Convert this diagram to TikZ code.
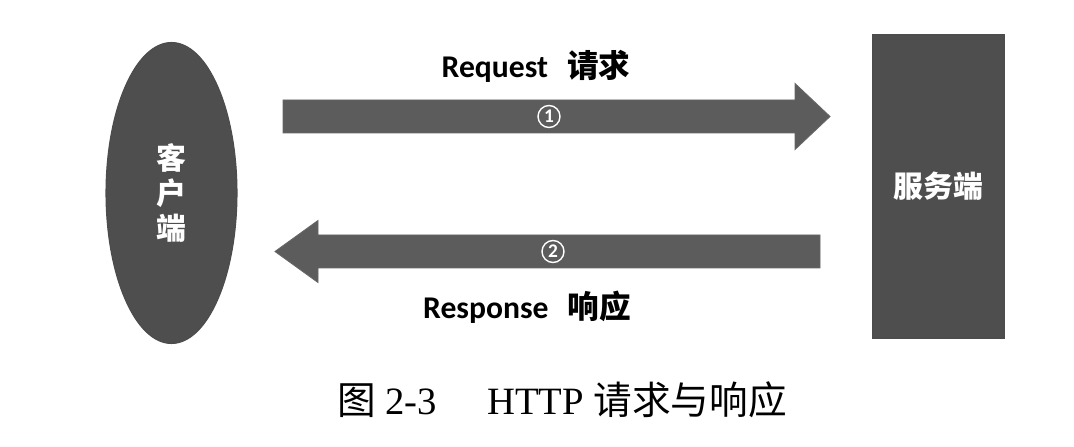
\documentclass[tikz,border=0pt]{standalone}
\usepackage{fontspec}
\setmainfont{Liberation Serif}
\newfontfamily\cjk{Noto Sans CJK SC}
\newfontfamily\lab{Carlito}
\usetikzlibrary{shapes.geometric}
\definecolor{boxgray}{HTML}{4E4E4E}
\definecolor{arrgray}{HTML}{5C5C5C}
\tikzset{
  party/.style={fill=boxgray, draw=black!70, line width=0.6pt, text=white, font=\cjk\bfseries\fontsize{17}{20}\selectfont},
  fatarrow/.style={fill=arrgray, draw=black!60, line width=0.5pt},
  numcirc/.style={circle, draw=white, line width=0.8pt, text=white, inner sep=0pt, minimum size=0.44cm, font=\lab\bfseries\fontsize{11}{11}\selectfont},
  msg/.style={font=\fontsize{18}{20}\selectfont, text=black}
}
\begin{document}
\begin{tikzpicture}
\useasboundingbox (0,0) rectangle (21.48,8.92);
\fill[white] (0,0) rectangle (21.48,8.92);
% client and server
\node[party, ellipse, minimum width=2.62cm, minimum height=6.02cm, inner sep=0pt, align=center] (client) at (3.43,5.06) {客\\[0pt]户\\[0pt]端};
\node[party, rectangle, minimum width=2.62cm, minimum height=6.06cm, inner sep=0pt] (server) at (18.77,5.19) {服务端};
% request arrow
\coordinate (r1s) at (5.66,6.59);
\coordinate (r1t) at (16.6,6.59);
\draw[fatarrow] ([yshift=0.33cm]r1s) -- ([xshift=-0.7cm,yshift=0.33cm]r1t) -- ([xshift=-0.7cm,yshift=0.66cm]r1t) -- (r1t) -- ([xshift=-0.7cm,yshift=-0.66cm]r1t) -- ([xshift=-0.7cm,yshift=-0.33cm]r1t) -- ([yshift=-0.33cm]r1s) -- cycle;
\node[numcirc] (n1) at (10.98,6.59) {1};
\node[msg] (req) at (10.72,7.6) {{\lab\bfseries Request}\hspace{0.6em}{\cjk\bfseries 请求}};
% response arrow
\coordinate (r2s) at (16.4,3.89);
\coordinate (r2t) at (5.5,3.89);
\draw[fatarrow] ([yshift=0.33cm]r2s) -- ([xshift=0.86cm,yshift=0.33cm]r2t) -- ([xshift=0.86cm,yshift=0.62cm]r2t) -- (r2t) -- ([xshift=0.86cm,yshift=-0.62cm]r2t) -- ([xshift=0.86cm,yshift=-0.33cm]r2t) -- ([yshift=-0.33cm]r2s) -- cycle;
\node[numcirc] (n2) at (11.06,3.89) {2};
\node[msg] (resp) at (10.54,2.78) {{\lab\bfseries Response}\hspace{0.6em}{\cjk\bfseries 响应}};
% caption
\node[font=\fontsize{22}{24}\selectfont] (cap) at (11.24,0.92) {{\cjk 图} 2-3\hspace{1.3em}HTTP {\cjk 请求与响应}};
\end{tikzpicture}
\end{document}
